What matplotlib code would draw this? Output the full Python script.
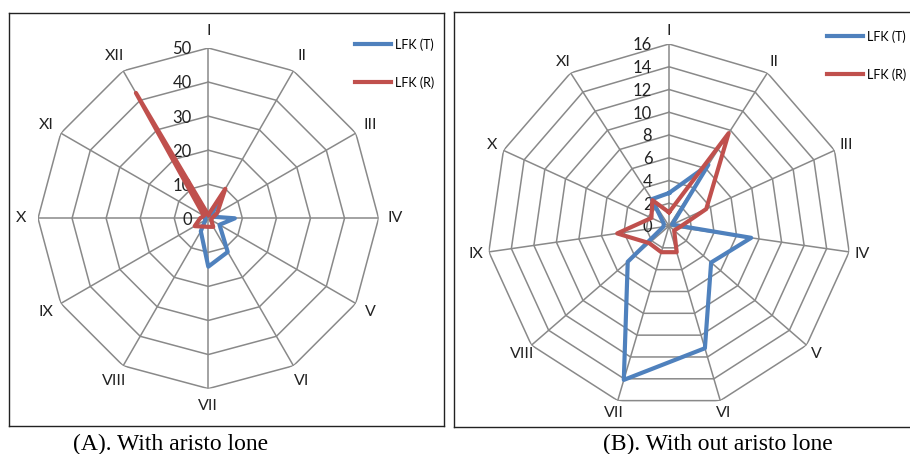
import numpy as np
import matplotlib
matplotlib.use("Agg")
import matplotlib.pyplot as plt

# categories
cats_A = ['I', 'II', 'III', 'IV', 'V', 'VI', 'VII', 'VIII', 'IX', 'X', 'XI', 'XII']
cats_B = ['I', 'II', 'III', 'IV', 'V', 'VI', 'VII', 'VIII', 'IX', 'X', 'XI']

# values
lfk_t_A = [1.0, 5.0, 1.0, 7.8, 3.8, 11.4, 14.2, 4.4, 1.0, 1.0, 1.0, 1.0]
lfk_r_A = [1.0, 10.0, 3.0, 1.0, 1.0, 2.9, 2.5, 2.8, 4.6, 2.4, 1.5, 42.5]
lfk_t_B = [2.9, 6.4, 0.3, 7.3, 4.9, 11.2, 14.1, 4.8, 0.5, 0.5, 2.8]
lfk_r_B = [1.2, 9.7, 3.6, 0.9, 0.6, 2.4, 2.4, 2.3, 4.6, 1.7, 2.7]

ticks_A = [0, 10, 20, 30, 40, 50]
ticks_B = [0, 2, 4, 6, 8, 10, 12, 14, 16]

captions = ['(A). With aristo lone', '(B). With out aristo lone']

BLUE = '#4F81BD'
RED = '#C0504D'
GRID = '#898989'
W, H = 910, 454

plt.rcParams['font.family'] = ['Lato', 'DejaVu Sans']

fig = plt.figure(figsize=(W / 100, H / 100), dpi=100)


def px_box(x0, y0, x1, y1):
    return [x0 / W, 1 - y1 / H, (x1 - x0) / W, (y1 - y0) / H]


def radar(rect, cats, t_vals, r_vals, ticks, lab_r, leg_xy):
    ax = fig.add_axes(rect, projection='polar')
    ax.set_theta_zero_location('N')
    ax.set_theta_direction(-1)
    ax.grid(False)
    ax.spines['polar'].set_visible(False)
    ax.patch.set_visible(False)
    ax.set_xticks([])
    ax.set_yticks([])
    n = len(cats)
    theta = np.linspace(0, 2 * np.pi, n, endpoint=False)
    closed = np.append(theta, theta[0])
    rmax = ticks[-1]
    ax.set_ylim(0, rmax)

    # polygon rings and spokes
    for t in ticks[1:]:
        ax.plot(closed, [t] * (n + 1), color=GRID, lw=1.1, zorder=1)
    for a in theta:
        ax.plot([a, a], [0, rmax], color=GRID, lw=1.1, zorder=1)

    # value labels along axis I
    for t in ticks:
        ax.annotate(str(t), xy=(0, t), xytext=(-12, -1), textcoords='offset points',
                    ha='right', va='center', fontsize=12, color='#222222')

    # category labels
    for a, c in zip(theta, cats):
        ax.text(a, rmax * lab_r, c, ha='center', va='center', fontsize=11.5,
                color='#222222')

    l1, = ax.plot(closed, t_vals + t_vals[:1], color=BLUE, lw=3, zorder=3,
                  label='LFK (T)')
    l2, = ax.plot(closed, r_vals + r_vals[:1], color=RED, lw=3, zorder=4,
                  label='LFK (R)')
    fig.legend(handles=[l1, l2], loc='upper left',
               bbox_to_anchor=(leg_xy[0] / W, 1 - leg_xy[1] / H),
               frameon=False, fontsize=9, handlelength=2.9, handletextpad=0.3,
               labelspacing=2.05, borderpad=0, borderaxespad=0)
    return ax


# panel frames
for box in [(9, 13, 444, 426), (454, 12, 913, 427)]:
    fr = fig.add_axes(px_box(*box))
    fr.set_xticks([])
    fr.set_yticks([])
    for s in fr.spines.values():
        s.set_linewidth(1.0)
        s.set_color('#222222')

radar(px_box(208.3 - 170.3, 218.3 - 170.3, 208.3 + 170.3, 218.3 + 170.3),
      cats_A, lfk_t_A, lfk_r_A, ticks_A, 1.1, (355, 38))
radar(px_box(669 - 182, 226 - 182, 669 + 182, 226 + 182),
      cats_B, lfk_t_B, lfk_r_B, ticks_B, 1.07, (827, 30))

fig.text(170.5 / W, 1 - 444 / H, captions[0], ha='center', va='center',
         fontsize=17, family='Liberation Serif')
fig.text(717.5 / W, 1 - 444 / H, captions[1], ha='center', va='center',
         fontsize=17, family='Liberation Serif')

fig.savefig('out.png', dpi=100)
